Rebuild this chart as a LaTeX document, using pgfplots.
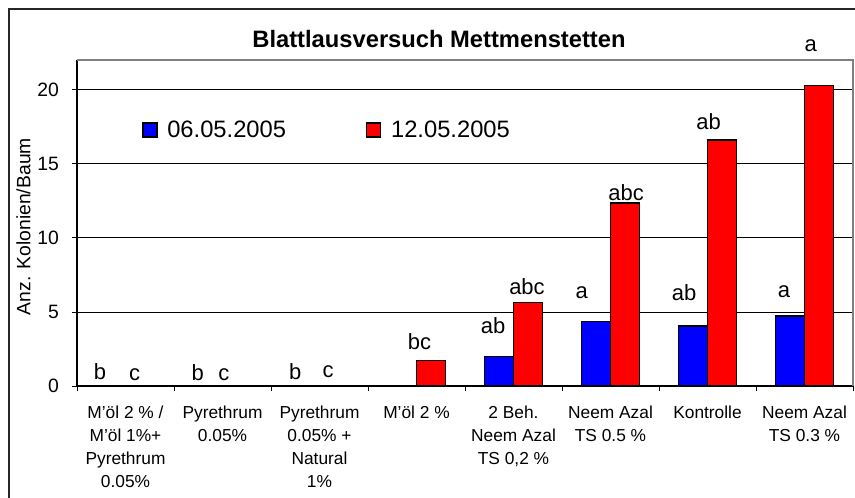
\documentclass[border=0pt]{standalone}
\usepackage{fontspec}
\setmainfont{Liberation Sans}
\usepackage{pgfplots}
\pgfplotsset{compat=1.18}
\pgfplotsset{sqlegend/.style={legend image code/.code={\draw[##1] (0pt,-5.25pt) rectangle (10.5pt,5.25pt);}}}

\newcommand\lab[3]{\node[anchor=base, inner sep=0pt, font=\fontsize{16.5}{18}\selectfont] at (axis cs:#1,#2) {#3};}

\begin{document}
\begin{tikzpicture}
\useasboundingbox (0,0) rectangle (641.25pt,372.75pt);
\draw[line width=1.1pt, black!85] (6.75pt,-2pt) -- (6.75pt,366pt) -- (645pt,366pt);
\node[anchor=base, font=\bfseries\fontsize{17.8}{20}\selectfont] at (329.25pt,336.75pt) {Blattlausversuch Mettmenstetten};

\begin{axis}[
    at={(57.75pt,83.25pt)}, anchor=south west,
    scale only axis, width=582pt, height=244.5pt,
    ybar=0pt, bar width=21.75pt,
    xmin=-0.5, xmax=7.5, ymin=0, ymax=22,
    clip=false,
    axis x line*=bottom, axis y line*=left,
    axis line style={-, black, line width=0.8pt},
    tick align=outside,
    major tick length=4pt,
    tick style={black, line width=0.6pt},
    ytick={0,5,10,15,20},
    ymajorgrids, grid style={black, line width=0.6pt},
    /pgf/number format/assume math mode=true,
    yticklabel style={font=\fontsize{14.5}{16}\selectfont, xshift=-6pt},
    xtick={-0.5,0.5,...,7.5}, xticklabels={},
    extra x ticks={0,1,2,3,4,5,6,7},
    extra x tick labels={{M'öl 2 \% /\\M'öl 1\%+\\Pyrethrum\\0.05\%},
        {Pyrethrum\\0.05\%},
        {Pyrethrum\\0.05\% +\\Natural\\1\%},
        {M'öl 2 \%},
        {2 Beh.\\Neem Azal\\TS 0,2 \%},
        {Neem Azal\\TS 0.5 \%},
        {Kontrolle},
        {Neem Azal\\TS 0.3 \%}},
    extra x tick style={major tick length=0pt,
        tick label style={align=center, yshift=-11.5pt, font=\fontsize{13}{17.25}\selectfont}},
    ylabel={Anz. Kolonien/Baum},
    ylabel style={at={(rel axis cs:-0.069,0.489)}, anchor=center, font=\fontsize{14.5}{16}\selectfont},
    legend style={at={(rel axis cs:0.0838,0.785)}, anchor=west, draw=none, fill=none,
        inner sep=0pt, font=\fontsize{17.8}{20}\selectfont, legend columns=2,
        /tikz/every odd column/.append style={column sep=5.25pt},
        /tikz/every even column/.append style={column sep=58pt}},
]
\addplot[fill=blue, draw=black, line width=1pt, sqlegend]
    coordinates {(0,0) (1,0) (2,0) (3,0) (4,1.98) (5,4.35) (6,4.05) (7,4.73)};
\addplot[fill=red, draw=black, line width=1pt, sqlegend]
    coordinates {(0,0) (1,0) (2,0) (3,1.71) (4,5.65) (5,12.34) (6,16.6) (7,20.3)};
\legend{06.05.2005, 12.05.2005}

\draw[gray, line width=0.8pt] (rel axis cs:0,1) -- (rel axis cs:1,1) -- (rel axis cs:1,0);

\lab{-0.263}{0.45}{b}
\lab{0.095}{0.36}{c}
\lab{0.746}{0.36}{b}
\lab{1.013}{0.36}{c}
\lab{1.749}{0.45}{b}
\lab{2.088}{0.56}{c}
\lab{3.03}{2.43}{bc}
\lab{3.789}{3.56}{ab}
\lab{4.139}{6.15}{abc}
\lab{4.703}{5.93}{a}
\lab{5.16}{12.5}{abc}
\lab{5.76}{5.76}{ab}
\lab{6.012}{17.3}{ab}
\lab{6.789}{5.99}{a}
\lab{7.064}{22.55}{a}
\end{axis}
\end{tikzpicture}
\end{document}
